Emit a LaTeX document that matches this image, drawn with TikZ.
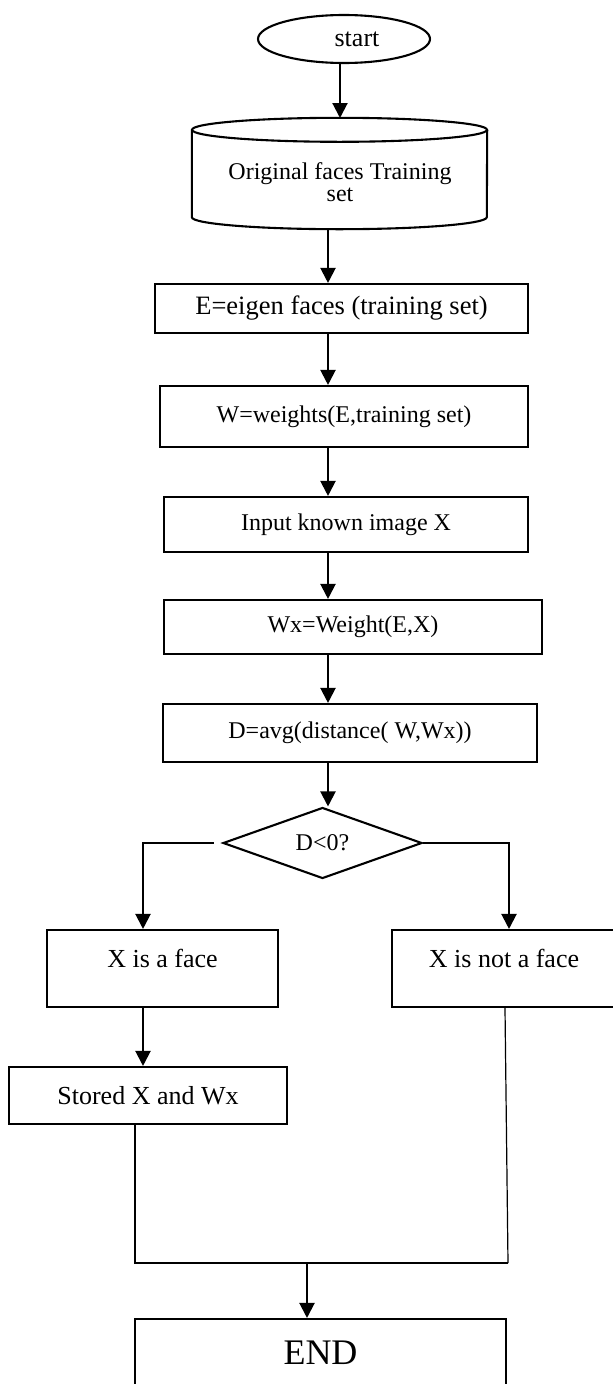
\documentclass[tikz,border=0pt]{standalone}
\usepackage{fontspec}
\setmainfont{Liberation Serif}
\usetikzlibrary{shapes.geometric,arrows.meta,calc}
\newcommand\fsA{\fontsize{24}{22}\selectfont}
\newcommand\fsE{\fontsize{26.5}{28}\selectfont}
\newcommand\fsB{\fontsize{26}{28}\selectfont}
\newcommand\fsC{\fontsize{36}{40}\selectfont}
\begin{document}
\begin{tikzpicture}[x=1pt,y=-1pt,
  line/.style={line width=2.1pt},
  thinline/.style={line width=1.2pt},
  arr/.style={line width=2.1pt,-{Triangle[length=15pt,width=15pt]}},
  stepbox/.style={draw,line width=2.1pt,rectangle,inner sep=0pt,font=\fsA},
  bigbox/.style={stepbox,font=\fsB},
  decis/.style={draw,line width=2.1pt,diamond,aspect=2.8,inner sep=0pt,font=\fsA},
  term/.style={draw,line width=2.1pt,ellipse,inner sep=0pt,font=\fsB}]
\fill[white] (0,0) rectangle (613,1384);
\useasboundingbox (0,0) rectangle (613,1384);

% start
\node[term,minimum width=172pt,minimum height=48pt] (start) at (344,39) {\hspace*{26pt}start};

% database cylinder
\node[minimum width=295pt,minimum height=87pt,inner sep=0pt] (db) at (339.5,173.5) {};
\draw[line] (db.north) ellipse[x radius=147.5pt,y radius=12pt];
\draw[line] (db.north west) -- (db.south west)
  arc[start angle=180,end angle=360,x radius=147.5pt,y radius=12pt] -- (db.north east);
\node[font=\fsA,align=center,inner sep=0pt] (dbt) at (340,182) {Original faces Training\\set};
\coordinate (dbtop) at (340,118);
\coordinate (dbbot) at (328,229);

% process boxes
\node[stepbox,font=\fsE,minimum width=373pt,minimum height=49pt] (E) at (341.5,308.5) {E=eigen faces (training set)};
\node[stepbox,minimum width=368pt,minimum height=61pt] (W) at (344,416.5) {W=weights(E,training set)};
\node[stepbox,minimum width=364pt,minimum height=55pt] (In) at (346,524.5) {Input known image X};
\node[stepbox,minimum width=378pt,minimum height=54pt] (Wx) at (353,627) {Wx=Weight(E,X)};
\node[stepbox,minimum width=374pt,minimum height=58pt] (D) at (350,733) {D=avg(distance( W,Wx))};
\node[decis,minimum width=199pt,minimum height=71pt] (dia) at (322.5,843) {D<0?};

\node[bigbox,minimum width=231pt,minimum height=77pt,text depth=21pt] (face) at (162.5,968.5) {X is a face};
\node[bigbox,minimum width=224pt,minimum height=77pt,text depth=21pt] (notface) at (504,968.5) {X is not a face};
\node[bigbox,minimum width=278pt,minimum height=57pt] (stored) at (148,1095.5) {Stored X and Wx};
\node[stepbox,font=\fsC,minimum width=371pt,minimum height=68pt] (end) at (320.5,1353) {END};

% connectors
\coordinate (a0) at (328,0);
\draw[arr] (start.south -| dbtop) -- (dbtop);
\draw[arr] (dbbot) -- (E.north -| a0);
\draw[arr] (E.south -| a0) -- (W.north -| a0);
\draw[arr] (W.south -| a0) -- (In.north -| a0);
\draw[arr] (In.south -| a0) -- (Wx.north -| a0);
\draw[arr] (Wx.south -| a0) -- (D.north -| a0);
\draw[arr] (D.south -| a0) -- (dia.north -| a0);

\coordinate (bL) at (143,843);
\coordinate (bR) at (509,843);
\draw[arr] ([xshift=-8pt]dia.west) -- (bL) -- (bL |- face.north);
\draw[arr] (dia.east) -- (bR) -- (bR |- notface.north);

\coordinate (a1) at (143,0);
\draw[arr] (a1 |- face.south) -- (a1 |- stored.north);

\coordinate (mL) at (135,1263);
\coordinate (mR) at (508,1263);
\coordinate (mA) at (307,1263);
\draw[line] (mL |- stored.south) -- (mL) -- (mR);
\draw[thinline] ([xshift=1pt]notface.south) -- (mR);
\draw[arr] (mA) -- (mA |- end.north);
\end{tikzpicture}
\end{document}
